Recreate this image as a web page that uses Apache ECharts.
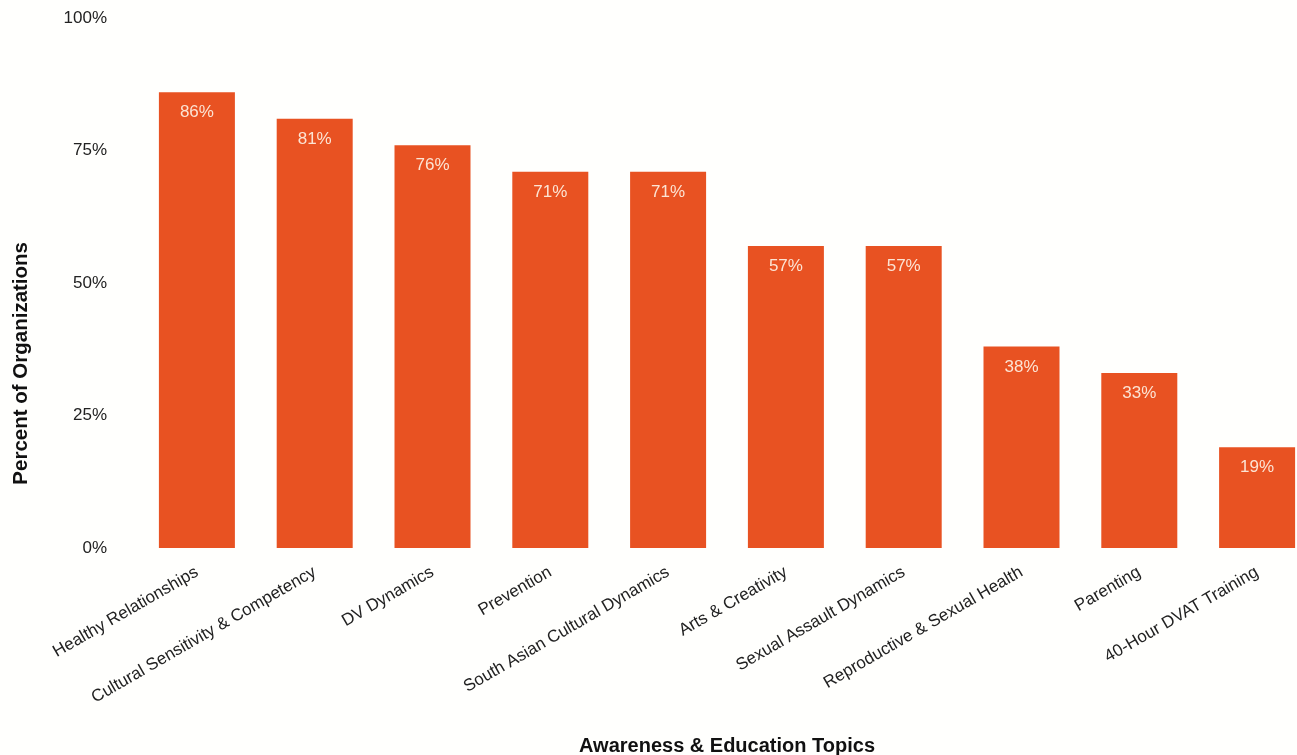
<!DOCTYPE html>
<html>
<head>
<meta charset="utf-8">
<script src="https://cdn.jsdelivr.net/npm/echarts@6/dist/echarts.min.js"></script>
<style>
  html, body { margin: 0; padding: 0; background: #fffffd; }
  #chart { width: 1297px; height: 755px; }
</style>
</head>
<body>
<div id="chart"></div>
<script>
// Awareness & education topics offered, percent of organizations
const topics = [
  'Healthy Relationships',
  'Cultural Sensitivity & Competency',
  'DV Dynamics',
  'Prevention',
  'South Asian Cultural Dynamics',
  'Arts & Creativity',
  'Sexual Assault Dynamics',
  'Reproductive & Sexual Health',
  'Parenting',
  '40-Hour DVAT Training'
];
const percents = [86, 81, 76, 71, 71, 57, 57, 38, 33, 19];
const yTicks = [0, 25, 50, 75, 100];

const FONT = '"Liberation Sans", Arial, sans-serif';
const chart = echarts.init(document.getElementById('chart'));

chart.setOption({
  backgroundColor: '#fffffd',
  animation: false,
  grid: {
    left: 138, right: -19, top: 18, bottom: 207,
    containLabel: false,
    outerBoundsMode: 'none'
  },
  xAxis: {
    type: 'category',
    data: topics,
    name: 'Awareness & Education Topics',
    nameLocation: 'middle',
    nameGap: 188,
    nameTextStyle: { fontFamily: FONT, fontSize: 20, fontWeight: 'bold', color: '#111' },
    axisLine: { show: false },
    axisTick: { show: false },
    axisLabel: {
      interval: 0,
      rotate: 30,
      margin: 23,
      fontFamily: FONT,
      fontSize: 17,
      color: '#222'
    }
  },
  yAxis: {
    type: 'value',
    min: yTicks[0],
    max: yTicks[yTicks.length - 1],
    interval: 25,
    splitLine: { show: false },
    axisLine: { show: false },
    axisTick: { show: false },
    axisLabel: {
      margin: 31,
      fontFamily: FONT,
      fontSize: 17,
      color: '#222',
      formatter: v => v + '%'
    }
  },
  graphic: [{
    type: 'text',
    left: 11,
    top: 242,
    rotation: Math.PI / 2,
    style: {
      text: 'Percent of Organizations',
      fontFamily: FONT,
      fontSize: 20.5,
      fontWeight: 'bold',
      fill: '#111'
    }
  }],
  series: [{
    type: 'bar',
    data: percents,
    barWidth: 76,
    itemStyle: { color: '#e85222' },
    label: {
      show: true,
      position: 'insideTop',
      distance: 12,
      fontFamily: FONT,
      fontSize: 17,
      color: '#fce4d4',
      formatter: p => p.value + '%'
    }
  }]
});
</script>
</body>
</html>
